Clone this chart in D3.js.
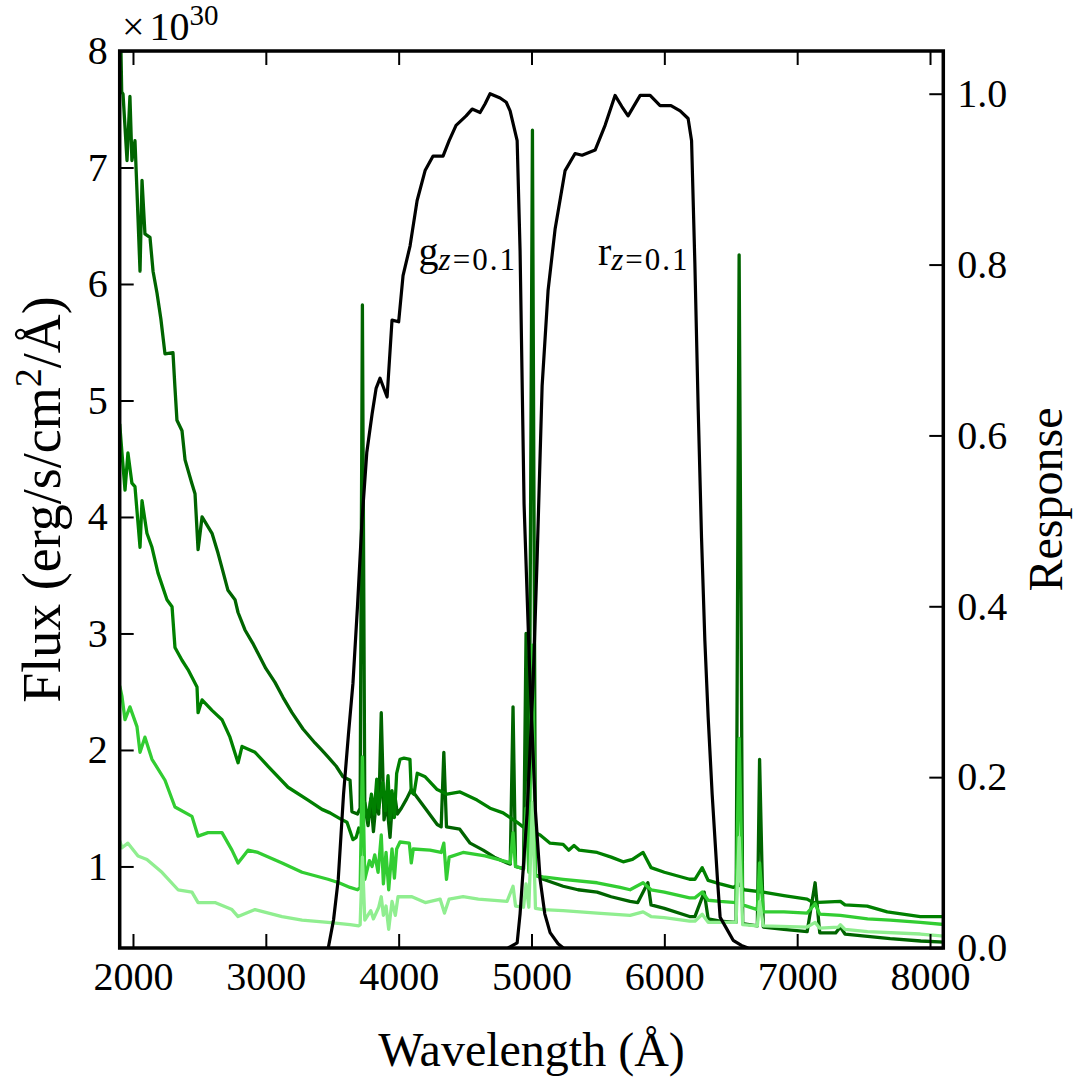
<!DOCTYPE html>
<html><head><meta charset="utf-8">
<script src="https://cdn.jsdelivr.net/npm/d3@7"></script>
<style>
html,body{margin:0;padding:0;background:#fff;}
text{font-family:"Liberation Serif",serif;fill:#000;}
</style></head>
<body>
<svg id="chart" width="1080" height="1077"></svg>
<script>
// ---------------- DATA ----------------
const xTicks = [2000, 3000, 4000, 5000, 6000, 7000, 8000];
const fluxTicks = [1, 2, 3, 4, 5, 6, 7, 8];
const respTicks = [0, 0.2, 0.4, 0.6, 0.8, 1.0];

// Spectrum 1 (dark green)
const waveA = [1900,1915,1925,1955,1977,1992,2015,2030,2053,2068,2090,2128,2151,2181,2210,2241,2301,2316,2331,2369,2392,2440,2467,2490,2520,2595,2640,2680,2715,2768,2791,2843,2900,2941,3000,3069,3130,3197,3280,3370,3420,3468,3530,3581,3634,3648,3690,3710,3727,3745,3770,3790,3810,3830,3850,3869,3890,3910,3935,3950,3970,3990,4020,4060,4095,4200,4290,4320,4340,4360,4460,4538,4636,4720,4816,4840,4861,4880,4940,4959,4980,5007,5030,5088,5238,5350,5494,5600,5742,5800,5876,5900,6000,6190,6230,6300,6330,6420,6540,6563,6590,6700,6717,6745,6900,7075,7135,7170,7290,7325,7360,7530,7700,7930,8120];
const fluxA = [8.6,7.65,7.63,7.06,7.61,7.06,7.23,6.80,6.11,6.89,6.43,6.40,6.11,5.92,5.70,5.40,5.41,5.11,4.83,4.74,4.49,4.30,4.20,3.72,4.00,3.86,3.69,3.52,3.37,3.29,3.18,3.03,2.92,2.83,2.70,2.58,2.45,2.32,2.18,2.06,2.00,1.94,1.86,1.77,1.74,1.47,1.45,1.50,5.82,1.51,1.35,1.58,1.30,1.55,1.45,2.32,1.40,1.55,1.25,1.50,1.62,1.45,1.50,1.58,1.66,1.50,1.36,1.34,1.98,1.34,1.32,1.20,1.14,1.08,1.03,1.02,2.37,1.00,0.98,3.0,0.97,7.32,0.93,0.89,0.83,0.80,0.78,0.74,0.70,0.69,0.86,0.67,0.64,0.57,0.57,0.78,0.55,0.53,0.52,6.25,0.51,0.49,1.92,0.48,0.46,0.44,0.86,0.43,0.43,0.48,0.42,0.40,0.38,0.36,0.35];

// Spectrum 2 (green)
const waveB = [1900,1917,1940,1962,1992,2015,2053,2068,2105,2143,2188,2256,2294,2316,2369,2414,2482,2490,2520,2595,2670,2730,2791,2821,2919,3017,3167,3318,3423,3483,3574,3611,3656,3680,3700,3720,3745,3770,3795,3815,3835,3850,3880,3900,3920,3935,3950,3968,3985,4010,4040,4085,4095,4115,4140,4200,4290,4364,4462,4590,4688,4786,4890,4937,5065,5140,5238,5280,5320,5360,5494,5600,5690,5760,5840,5900,6000,6190,6230,6285,6330,6420,6520,6563,6600,6744,6900,7075,7120,7325,7360,7527,7678,7927,8120];
const fluxB = [4.80,4.55,4.23,4.55,4.29,4.26,3.74,4.14,3.86,3.74,3.52,3.29,3.23,2.88,2.77,2.69,2.54,2.32,2.43,2.34,2.26,2.11,1.89,2.03,1.98,1.86,1.68,1.57,1.49,1.46,1.40,1.38,1.23,1.25,1.33,1.28,1.55,1.40,1.62,1.45,1.75,1.50,1.72,1.48,1.78,1.40,1.65,1.42,1.80,1.92,1.93,1.92,1.64,1.62,1.80,1.77,1.66,1.62,1.64,1.57,1.50,1.46,1.38,1.34,1.27,1.20,1.19,1.14,1.18,1.14,1.12,1.08,1.04,1.06,1.12,0.99,0.95,0.89,0.89,0.99,0.88,0.85,0.82,0.85,0.80,0.78,0.75,0.72,0.69,0.70,0.67,0.66,0.61,0.57,0.57];

// Spectrum 3 (lime green)
const waveC = [1900,1917,1940,1977,2030,2053,2090,2143,2241,2316,2444,2490,2565,2670,2745,2791,2866,2941,3122,3273,3468,3550,3634,3690,3710,3727,3745,3780,3800,3820,3845,3869,3885,3905,3925,3950,3968,3985,4010,4080,4095,4110,4236,4320,4340,4360,4380,4485,4650,4816,4840,4861,4880,4940,4959,4980,5007,5030,5088,5238,5494,5667,5742,5840,5900,6000,6190,6230,6285,6330,6420,6540,6563,6590,6700,6717,6745,6900,7075,7135,7170,7325,7530,7700,7927,8120];
const fluxC = [2.55,2.46,2.26,2.37,2.20,1.98,2.11,1.92,1.74,1.51,1.43,1.26,1.29,1.29,1.14,1.03,1.14,1.12,1.03,0.95,0.89,0.86,0.82,0.80,0.82,1.94,0.89,1.05,1.00,1.10,0.95,1.27,0.85,1.12,0.80,1.15,0.90,1.15,1.21,1.20,1.03,1.15,1.14,1.12,1.20,0.89,1.08,1.12,1.09,1.04,1.03,1.29,1.00,0.98,1.5,0.95,2.9,0.92,0.91,0.89,0.86,0.82,0.80,0.86,0.80,0.78,0.73,0.73,0.78,0.71,0.70,0.69,2.1,0.67,0.63,1.03,0.61,0.61,0.60,0.68,0.59,0.58,0.55,0.54,0.52,0.50];

// Spectrum 4 (light green)
const waveD = [1900,1917,1962,2038,2105,2218,2339,2444,2490,2617,2745,2791,2919,3122,3273,3468,3634,3700,3710,3727,3745,3790,3810,3850,3869,3885,3905,3925,3950,3975,3995,4100,4200,4312,4345,4380,4485,4600,4816,4861,4880,4940,4959,4980,5007,5030,5088,5238,5494,5742,5840,5900,6000,6190,6230,6285,6330,6420,6540,6563,6590,6700,6717,6745,7075,7135,7170,7310,7325,7360,7530,7927,8120];
const fluxD = [1.22,1.16,1.20,1.09,1.06,0.95,0.80,0.78,0.69,0.69,0.63,0.57,0.63,0.57,0.54,0.52,0.50,0.49,0.50,1.08,0.54,0.62,0.55,0.65,0.74,0.58,0.66,0.46,0.70,0.58,0.74,0.74,0.69,0.72,0.60,0.72,0.74,0.72,0.70,0.83,0.66,0.65,0.85,0.65,1.55,0.64,0.63,0.62,0.60,0.58,0.61,0.57,0.56,0.53,0.53,0.59,0.52,0.52,0.52,1.25,0.50,0.49,0.70,0.49,0.48,0.52,0.47,0.48,0.50,0.46,0.44,0.42,0.40];

// Filter responses
const waveG = [3470,3510,3545,3585,3622,3656,3690,3724,3760,3800,3830,3860,3913,3950,4000,4033,4086,4139,4199,4259,4334,4380,4432,4508,4553,4613,4650,4688,4764,4810,4839,4892,4914,4944,4985,5030,5065,5100,5140,5200,5240];
const respG = [0,0.033,0.08,0.18,0.25,0.31,0.40,0.50,0.58,0.625,0.655,0.667,0.645,0.735,0.733,0.787,0.822,0.875,0.91,0.927,0.927,0.945,0.963,0.974,0.982,0.978,0.988,1.0,0.995,0.99,0.98,0.945,0.816,0.52,0.33,0.16,0.08,0.04,0.018,0.005,0];
const waveR = [4824,4892,4914,4967,4990,5012,5042,5080,5125,5178,5253,5328,5381,5479,5554,5629,5680,5727,5818,5893,5968,6050,6119,6179,6205,6230,6255,6280,6305,6330,6360,6400,6420,6460,6518,6580,6630];
const respR = [0,0.006,0.04,0.158,0.235,0.31,0.454,0.658,0.77,0.842,0.91,0.93,0.928,0.934,0.963,0.998,0.985,0.974,0.998,0.998,0.986,0.986,0.98,0.971,0.945,0.80,0.63,0.48,0.36,0.27,0.18,0.08,0.036,0.025,0.009,0.003,0];

const spectra = [
  {wave: waveA, flux: fluxA, color: "#006400"},
  {wave: waveB, flux: fluxB, color: "#008000"},
  {wave: waveC, flux: fluxC, color: "#32cd32"},
  {wave: waveD, flux: fluxD, color: "#90ee90"}
];
const filters = [
  {wave: waveG, resp: respG, label: "g", lx: 4150, ly: 0.80},
  {wave: waveR, resp: respR, label: "r", lx: 5500, ly: 0.80}
];

// ---------------- LAYOUT ----------------
const L = 119.7, R = 943.3, T = 51, B = 948;
const svg = d3.select("#chart");
const x = d3.scaleLinear().domain([1900, 8100]).range([L, R]);
const yF = d3.scaleLinear().domain([0.3, 8]).range([B, T]);
const yR = d3.scaleLinear().domain([0, 1.05]).range([B, T]);

svg.append("defs").append("clipPath").attr("id", "clip")
  .append("rect").attr("x", L).attr("y", T).attr("width", R - L).attr("height", B - T);

const plot = svg.append("g").attr("clip-path", "url(#clip)");

spectra.forEach(s => {
  const line = d3.line().x((d, i) => x(s.wave[i])).y(d => yF(d));
  plot.append("path").attr("d", line(s.flux))
    .attr("fill", "none").attr("stroke", s.color).attr("stroke-width", 3.3)
    .attr("stroke-linejoin", "round");
});
filters.forEach(f => {
  const line = d3.line().x((d, i) => x(f.wave[i])).y(d => yR(d));
  plot.append("path").attr("d", line(f.resp))
    .attr("fill", "none").attr("stroke", "#000").attr("stroke-width", 3.2)
    .attr("stroke-linejoin", "round");
});

// filter labels
filters.forEach(f => {
  const t = svg.append("text").attr("x", x(f.lx)).attr("y", yR(f.ly)).attr("font-size", 40);
  t.append("tspan").text(f.label);
  t.append("tspan").attr("dy", 5).attr("font-size", 31).attr("font-style", "italic").attr("letter-spacing", 2).text("z");
  t.append("tspan").attr("font-size", 31).attr("letter-spacing", 2).text("=0.1");
});

// axes
const tickLen = 14;
function styleAxis(g) {
  g.select(".domain").remove();
  g.selectAll(".tick line").attr("stroke", "#000").attr("stroke-width", 2);
  g.selectAll(".tick text").attr("font-size", 40).attr("font-family", "Liberation Serif, serif");
}
svg.append("g").attr("transform", `translate(0,${B})`)
  .call(d3.axisBottom(x).tickValues(xTicks).tickSizeInner(-tickLen).tickSizeOuter(0).tickPadding(14).tickFormat(d3.format("d")))
  .call(styleAxis);
svg.append("g").attr("transform", `translate(0,${T})`)
  .call(d3.axisTop(x).tickValues(xTicks).tickSizeInner(-tickLen).tickSizeOuter(0).tickFormat(""))
  .call(styleAxis);
svg.append("g").attr("transform", `translate(${L},0)`)
  .call(d3.axisLeft(yF).tickValues(fluxTicks).tickSizeInner(-tickLen).tickSizeOuter(0).tickPadding(12).tickFormat(d3.format("d")))
  .call(styleAxis);
svg.append("g").attr("transform", `translate(${R},0)`)
  .call(d3.axisRight(yR).tickValues(respTicks).tickSizeInner(-tickLen).tickSizeOuter(0).tickPadding(14).tickFormat(d3.format(".1f")))
  .call(styleAxis);

// frame
svg.append("rect").attr("x", L).attr("y", T).attr("width", R - L).attr("height", B - T)
  .attr("fill", "none").attr("stroke", "#000").attr("stroke-width", 3.5);

// multiplier
const m = svg.append("text").attr("x", 122).attr("y", 40).attr("font-size", 40);
m.append("tspan").text("×");
m.append("tspan").attr("dx", 5).text("10");
m.append("tspan").attr("dy", -15).attr("font-size", 29).text("30");

// axis titles
svg.append("text").attr("x", (L + R) / 2).attr("y", 1066).attr("text-anchor", "middle")
  .attr("font-size", 48).text("Wavelength (Å)");
const yl = svg.append("text").attr("transform", `translate(60,${(T + B) / 2}) rotate(-90)`)
  .attr("text-anchor", "middle").attr("font-size", 54);
yl.append("tspan").text("Flux (erg/s/cm");
yl.append("tspan").attr("dy", -19).attr("font-size", 38).text("2");
yl.append("tspan").attr("dy", 19).text("/Å)");
svg.append("text").attr("transform", `translate(1062,${(T + B) / 2}) rotate(-90)`)
  .attr("text-anchor", "middle").attr("font-size", 48).text("Response");
</script>
</body></html>
